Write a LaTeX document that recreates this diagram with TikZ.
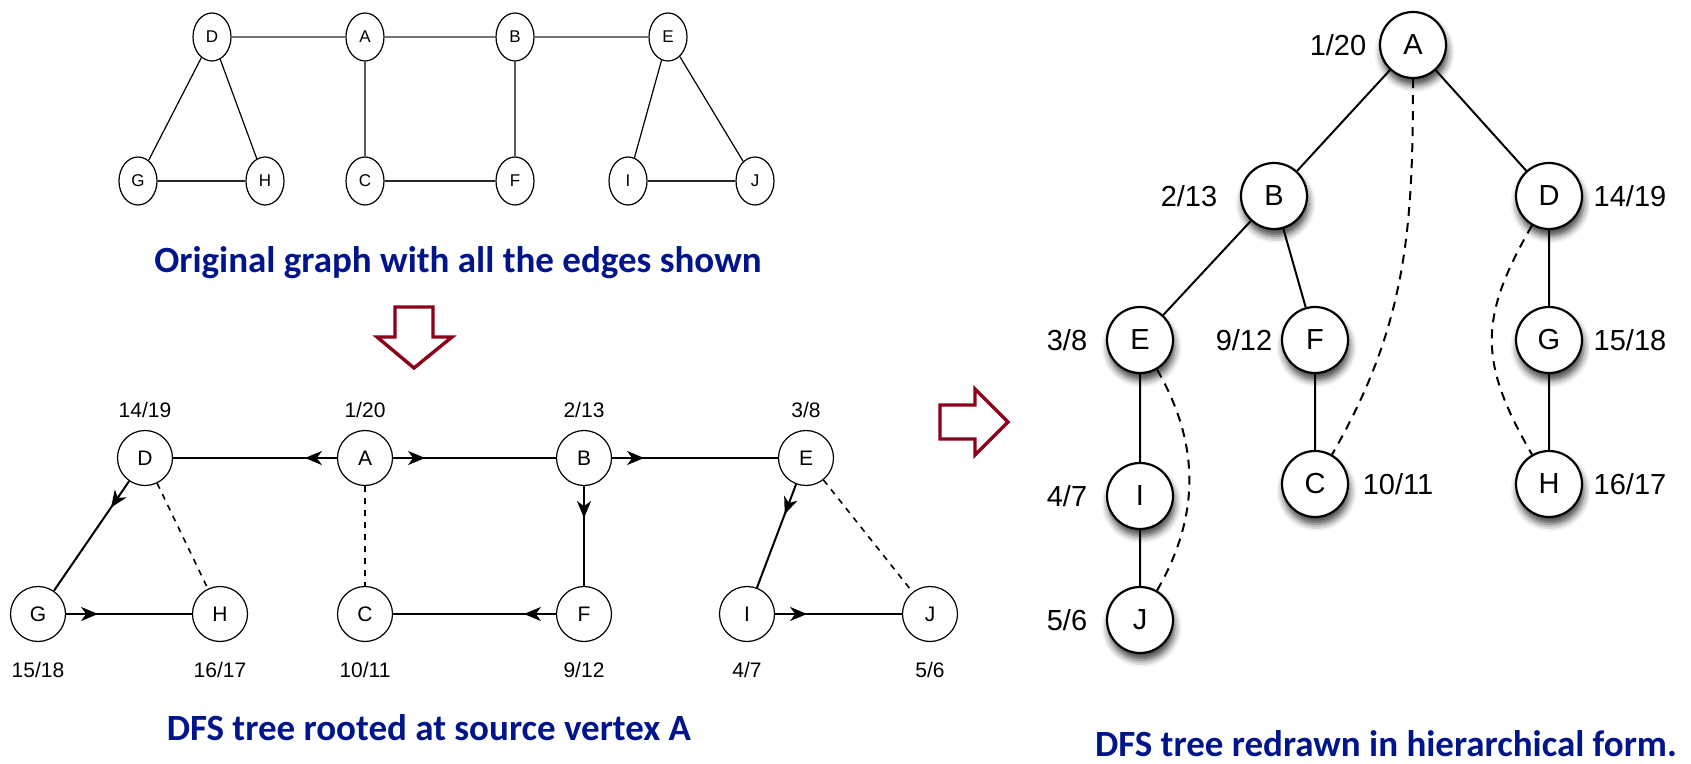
\documentclass[tikz,border=0pt]{standalone}
\usepackage{fontspec}
\setmainfont{Liberation Sans}
\newfontfamily\capfont{Carlito}
\usetikzlibrary{arrows.meta, positioning, calc, shapes.geometric, decorations.markings, shadows.blur}
\definecolor{CapBlue}{RGB}{0,20,140}
\definecolor{DarkRed}{RGB}{140,0,26}

\begin{document}
\begin{tikzpicture}[
    x=0.5pt, y=-0.5pt,
    orig/.style={draw, ellipse, minimum width=19pt, minimum height=24pt, inner sep=0pt, line width=0.6pt, font=\fontsize{8.5}{8.5}\selectfont},
    vtx/.style={draw, circle, minimum size=27.5pt, inner sep=0pt, line width=0.6pt, font=\fontsize{10.5}{10.5}\selectfont},
    tvtx/.style={draw, circle, minimum size=33pt, inner sep=0pt, line width=1.1pt, fill=white,
                 blur shadow={shadow xshift=0.8pt, shadow yshift=-3.5pt, shadow blur radius=3.5pt, shadow opacity=75},
                 font=\fontsize{14.5}{14.5}\selectfont},
    ftime/.style={font=\fontsize{10.5}{10.5}\selectfont},
    ttime/.style={font=\fontsize{14.5}{14.5}\selectfont},
    caption/.style={font=\capfont\bfseries\fontsize{18.5}{18.5}\selectfont, text=CapBlue},
    hollow/.style={draw=DarkRed, line width=1.7pt, line join=miter},
    treeedge/.style={line width=1pt, postaction={decorate},
        decoration={markings, mark=at position 16pt with {\arrow{Stealth[length=8.5pt,width=7pt,inset=2.5pt]}}}},
    backedge/.style={line width=0.8pt, dash pattern=on 3pt off 3pt},
    bigback/.style={line width=1pt, dash pattern=on 4.5pt off 3.5pt},
]
\useasboundingbox (0,0) rectangle (1691,764);

% ============ original graph ============
\node[orig] (oD) at (212,37) {D};
\node[orig] (oA) at (365,37) {A};
\node[orig] (oB) at (515,37) {B};
\node[orig] (oE) at (668,37) {E};
\node[orig] (oG) at (138,181) {G};
\node[orig] (oH) at (265,181) {H};
\node[orig] (oC) at (365,181) {C};
\node[orig] (oF) at (515,181) {F};
\node[orig] (oI) at (628,181) {I};
\node[orig] (oJ) at (755,181) {J};

\draw[black!55, line width=1pt] (oD) -- (oA) (oA) -- (oB) (oB) -- (oE);
\draw[line width=0.6pt] (oD) -- (oG) (oD) -- (oH) (oA) -- (oC) (oB) -- (oF) (oE) -- (oI) (oE) -- (oJ);
\draw[black!85, line width=1.3pt] (oG) -- (oH) (oC) -- (oF) (oI) -- (oJ);

\node[caption] (cap1) at (458,263) {Original graph with all the edges shown};

\draw[hollow] (395,307) -- (433,307) -- (433,337) -- (452,337) -- (414,368) -- (377,337) -- (395,337) -- cycle;

% ============ DFS tree, same layout ============
\node[vtx] (dD) at (145,458) {D};
\node[vtx] (dA) at (365,458) {A};
\node[vtx] (dB) at (584,458) {B};
\node[vtx] (dE) at (806,458) {E};
\node[vtx] (dG) at (38,614) {G};
\node[vtx] (dH) at (220,614) {H};
\node[vtx] (dC) at (365,614) {C};
\node[vtx] (dF) at (584,614) {F};
\node[vtx] (dI) at (747,614) {I};
\node[vtx] (dJ) at (930,614) {J};

\node[ftime] (dDt) at (145,410) {14/19};
\node[ftime] (dAt) at (365,410) {1/20};
\node[ftime] (dBt) at (584,410) {2/13};
\node[ftime] (dEt) at (806,410) {3/8};
\node[ftime] (dGt) at (38,670) {15/18};
\node[ftime] (dHt) at (220,670) {16/17};
\node[ftime] (dCt) at (365,670) {10/11};
\node[ftime] (dFt) at (584,670) {9/12};
\node[ftime] (dIt) at (747,670) {4/7};
\node[ftime] (dJt) at (930,670) {5/6};

\draw[treeedge] (dA) -- (dD);
\draw[treeedge] (dA) -- (dB);
\draw[treeedge] (dB) -- (dE);
\draw[treeedge] (dB) -- (dF);
\draw[treeedge] (dD) -- (dG);
\draw[treeedge] (dE) -- (dI);
\draw[treeedge] (dF) -- (dC);
\draw[treeedge] (dG) -- (dH);
\draw[treeedge] (dI) -- (dJ);
\draw[backedge] (dD) -- (dH) (dA) -- (dC) (dE) -- (dJ);

\node[caption] (cap2) at (429,728) {DFS tree rooted at source vertex A};

\draw[hollow] (940,405) -- (975,405) -- (975,389) -- (1008,422) -- (975,455) -- (975,439) -- (940,439) -- cycle;

% ============ hierarchical form ============
\node[tvtx] (tA) at (1413,45) {A};
\node[tvtx] (tB) at (1274,196) {B};
\node[tvtx] (tD) at (1549,196) {D};
\node[tvtx] (tE) at (1140,340) {E};
\node[tvtx] (tF) at (1315,340) {F};
\node[tvtx] (tG) at (1549,340) {G};
\node[tvtx] (tI) at (1140,496) {I};
\node[tvtx] (tC) at (1315,484) {C};
\node[tvtx] (tH) at (1549,484) {H};
\node[tvtx] (tJ) at (1140,620) {J};

\node[ttime] (tAt) at (1338,45) {1/20};
\node[ttime] (tBt) at (1189,196) {2/13};
\node[ttime] (tDt) at (1630,196) {14/19};
\node[ttime] (tEt) at (1067,340) {3/8};
\node[ttime] (tFt) at (1244,340) {9/12};
\node[ttime] (tGt) at (1630,340) {15/18};
\node[ttime] (tIt) at (1067,496) {4/7};
\node[ttime] (tCt) at (1398,484) {10/11};
\node[ttime] (tHt) at (1630,484) {16/17};
\node[ttime] (tJt) at (1067,620) {5/6};

\draw[line width=1pt] (tA) -- (tB) (tA) -- (tD) (tB) -- (tE) (tB) -- (tF)
    (tE) -- (tI) (tI) -- (tJ) (tF) -- (tC) (tD) -- (tG) (tG) -- (tH);
\draw[bigback] (tA) to[out=-90, in=60] (tC);
\draw[bigback] (tE) to[out=-60, in=60] (tJ);
\draw[bigback] (tD) to[out=-120, in=120, looseness=1.2] (tH);

\node[caption] (cap3) at (1386,744) {DFS tree redrawn in hierarchical form.};

\end{tikzpicture}
\end{document}
